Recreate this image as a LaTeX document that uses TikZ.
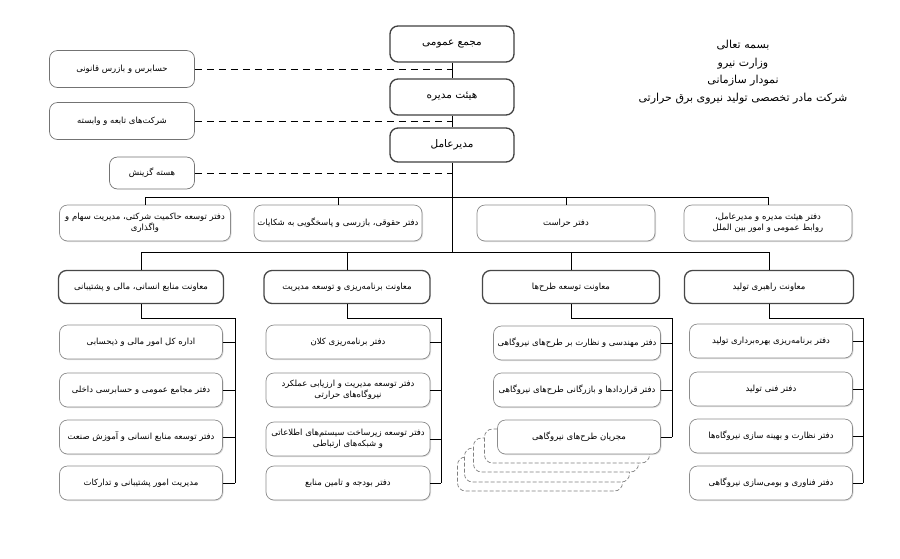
\documentclass[tikz,border=0pt]{standalone}
\usepackage{fontspec}
\newfontfamily\arabicfont[Script=Arabic]{DejaVu Sans}
\TeXXeTstate=1
\newcommand{\fa}[1]{{\arabicfont\beginR #1\endR}}
\usetikzlibrary{shadows}

\begin{document}
\begin{tikzpicture}[
    x=1pt, y=-1pt,
    font=\fontsize{8.5}{11.5}\selectfont,
    topbox/.style={rectangle, rounded corners=8pt, draw=black!75, line width=1.3pt, fill=white, minimum width=124pt, minimum height=36pt, align=center, font=\fontsize{10.5}{12}\selectfont},
    sidebox/.style={rectangle, rounded corners=8pt, draw=black!55, line width=0.7pt, fill=white, minimum height=37pt, align=center},
    headbox/.style={rectangle, rounded corners=8pt, draw=black!72, line width=1.3pt, fill=white, minimum height=33pt, align=center},
    unitbox/.style={rectangle, rounded corners=8pt, draw=black!45, line width=0.7pt, fill=white, minimum width=164pt, minimum height=34pt, align=center, drop shadow={shadow xshift=1pt, shadow yshift=-1pt, opacity=0.25}},
    ghost/.style={rectangle, rounded corners=8pt, draw=black!50, line width=0.7pt, fill=white, dash pattern=on 4pt off 2pt, minimum width=165pt, minimum height=34pt},
    link/.style={line width=0.8pt},
    dotlink/.style={line width=0.9pt, dash pattern=on 7pt off 5pt}
]
\useasboundingbox[fill=white] (0,0) rectangle (900,558);

% Title
\node[align=center, font=\fontsize{11}{17.5}\selectfont] (title) at (743,72) {\fa{بسمه تعالی}\\\fa{وزارت نیرو}\\\fa{نمودار سازمانی}\\\fa{شرکت مادر تخصصی تولید نیروی برق حرارتی}};

% Top of the chart
\node[topbox] (ga) at (452,44) {\fa{مجمع عمومی}};
\node[topbox] (board) at (452,97) {\fa{هیئت مدیره}};
\node[topbox, minimum height=34pt] (ceo) at (452,145) {\fa{مدیرعامل}};

% Side boxes
\node[sidebox, minimum width=145pt] (audit) at (122,69) {\fa{حسابرس و بازرس قانونی}};
\node[sidebox, minimum width=145pt] (subs) at (122,121) {\fa{شرکت^^^^200cهای تابعه و وابسته}};
\node[sidebox, minimum width=85pt, minimum height=32pt] (select) at (152,173) {\fa{هسته گزینش}};

% Offices
\node[unitbox, minimum width=171pt, minimum height=36pt] (gov) at (145,223) {\fa{دفتر توسعه حاکمیت شرکتی، مدیریت سهام و}\\\fa{واگذاری}};
\node[unitbox, minimum width=168pt, minimum height=36pt] (legal) at (338,223) {\fa{دفتر حقوقی، بازرسی و پاسخگویی به شکایات}};
\node[unitbox, minimum width=178pt, minimum height=36pt] (guard) at (566,223) {\fa{دفتر حراست}};
\node[unitbox, minimum width=168pt, minimum height=36pt] (boardoff) at (768,223) {\fa{دفتر هیئت مدیره و مدیرعامل،}\\\fa{روابط عمومی و امور بین الملل}};

% Deputies
\node[headbox, minimum width=165pt] (hr) at (141,287) {\fa{معاونت منابع انسانی، مالی و پشتیبانی}};
\node[headbox, minimum width=166pt] (plan) at (347,287) {\fa{معاونت برنامه^^^^200cریزی و توسعه مدیریت}};
\node[headbox, minimum width=177pt] (proj) at (571,287) {\fa{معاونت توسعه طرح^^^^200cها}};
\node[headbox, minimum width=169pt] (prod) at (769,287) {\fa{معاونت راهبری تولید}};

% Human resources
\node[unitbox, minimum width=163pt] (hr1) at (141,342) {\fa{اداره کل امور مالی و ذیحسابی}};
\node[unitbox, minimum width=163pt] (hr2) at (141,390) {\fa{دفتر مجامع عمومی و حسابرسی داخلی}};
\node[unitbox, minimum width=163pt] (hr3) at (141,437) {\fa{دفتر توسعه منابع انسانی و آموزش صنعت}};
\node[unitbox, minimum width=163pt] (hr4) at (141,483) {\fa{مدیریت امور پشتیبانی و تدارکات}};

% Planning
\node[unitbox] (plan1) at (348,342) {\fa{دفتر برنامه^^^^200cریزی کلان}};
\node[unitbox] (plan2) at (348,390) {\fa{دفتر توسعه مدیریت و ارزیابی عملکرد}\\\fa{نیروگاه^^^^200cهای حرارتی}};
\node[unitbox] (plan3) at (348,439) {\fa{دفتر توسعه زیرساخت سیستم^^^^200cهای اطلاعاتی}\\\fa{و شبکه^^^^200cهای ارتباطی}};
\node[unitbox] (plan4) at (348,483) {\fa{دفتر بودجه و تامین منابع}};

% Projects
\node[ghost] (ghost4) at (540,474) {};
\node[ghost] (ghost3) at (547,465) {};
\node[ghost] (ghost2) at (556,455) {};
\node[ghost] (ghost1) at (567,446) {};
\node[unitbox, minimum width=167pt] (proj1) at (577,343) {\fa{دفتر مهندسی و نظارت بر طرح^^^^200cهای نیروگاهی}};
\node[unitbox, minimum width=167pt] (proj2) at (577,390) {\fa{دفتر قراردادها و بازرگانی طرح^^^^200cهای نیروگاهی}};
\node[unitbox, minimum width=163pt] (proj3) at (579,437) {\fa{مجریان طرح^^^^200cهای نیروگاهی}};

% Production
\node[unitbox, minimum width=163pt] (prod1) at (771,341) {\fa{دفتر برنامه^^^^200cریزی بهره^^^^200cبرداری تولید}};
\node[unitbox, minimum width=163pt] (prod2) at (771,389) {\fa{دفتر فنی تولید}};
\node[unitbox, minimum width=163pt] (prod3) at (771,436) {\fa{دفتر نظارت و بهینه سازی نیروگاه^^^^200cها}};
\node[unitbox, minimum width=163pt] (prod4) at (771,483) {\fa{دفتر فناوری و بومی^^^^200cسازی نیروگاهی}};

% Trunk
\coordinate (bar1) at (452,197);
\coordinate (bar2) at (452,252);
\draw[link] (ga) -- (board);
\draw[link] (board) -- (ceo);
\draw[link] (ceo) -- (bar2);
\draw[dotlink] (audit) -- (audit -| ga);
\draw[dotlink] (subs) -- (subs -| ga);
\draw[dotlink] (select) -- (select -| ga);

% Bars
\draw[link] (gov.north) |- (boardoff.north |- bar1) -- (boardoff.north);
\draw[link] (legal.north) -- (legal.north |- bar1);
\draw[link] (guard.north) -- (guard.north |- bar1);
\draw[link] (hr.north) |- (prod.north |- bar2) -- (prod.north);
\draw[link] (plan.north) -- (plan.north |- bar2);
\draw[link] (proj.north) -- (proj.north |- bar2);

% Columns
\coordinate (hrbend) at (235,318);
\coordinate (planbend) at (441,318);
\coordinate (projbend) at (672,318);
\coordinate (prodbend) at (863,318);
\draw[link] (hr.south) |- (hrbend) -- (hrbend |- hr4);
\draw[link] (plan.south) |- (planbend) -- (planbend |- plan4);
\draw[link] (proj.south) |- (projbend) -- (projbend |- proj3);
\draw[link] (prod.south) |- (prodbend) -- (prodbend |- prod4);
\draw[link] (hr1) -- (hr1 -| hrbend);
\draw[link] (hr2) -- (hr2 -| hrbend);
\draw[link] (hr3) -- (hr3 -| hrbend);
\draw[link] (hr4) -- (hr4 -| hrbend);
\draw[link] (plan1) -- (plan1 -| planbend);
\draw[link] (plan2) -- (plan2 -| planbend);
\draw[link] (plan3) -- (plan3 -| planbend);
\draw[link] (plan4) -- (plan4 -| planbend);
\draw[link] (proj1) -- (proj1 -| projbend);
\draw[link] (proj2) -- (proj2 -| projbend);
\draw[link] (proj3) -- (proj3 -| projbend);
\draw[link] (prod1) -- (prod1 -| prodbend);
\draw[link] (prod2) -- (prod2 -| prodbend);
\draw[link] (prod3) -- (prod3 -| prodbend);
\draw[link] (prod4) -- (prod4 -| prodbend);

\end{tikzpicture}
\end{document}
